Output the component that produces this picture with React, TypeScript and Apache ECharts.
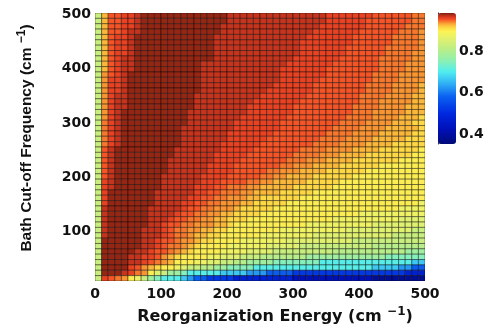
import React, { useEffect, useRef } from "react";
import * as echarts from "echarts";

const xTicks = [0, 100, 200, 300, 400, 500];
const yTicks = [100, 200, 300, 400, 500];
const barTicks = [0.4, 0.6, 0.8];
const colWidth = 10;
const rowCount = 50;
const yMin = 6;
const yMax = 500;

const levels: Record<string, number> = {
  a: 0.97, b: 0.96, c: 0.95, d: 0.943, e: 0.935, f: 0.928, g: 0.918, h: 0.905,
  i: 0.89, j: 0.87, k: 0.85, l: 0.82, m: 0.8, n: 0.77, o: 0.74, p: 0.7,
  q: 0.66, r: 0.62, s: 0.57, t: 0.52, u: 0.47, v: 0.42, w: 0.38,
};

// top row (500) first, ten groups of five cells each
const rows = [
  "lgddc cbaaa aaaaa aaaaa bbbbb bbbbb bbbbb ccccc ccddd dddee",
  "lgddc cbaaa aaaaa aaaaa bbbbb bbbbb bbbbb ccccc cdddd dddee",
  "lgddc cbaaa aaaaa aaaab bbbbb bbbbb bbbbc ccccc cdddd ddeee",
  "lgddc bbaaa aaaaa aaaab bbbbb bbbbb bbbcc ccccc ddddd deeef",
  "lgdcc baaaa aaaaa aaabb bbbbb bbbbb bbccc ccccd ddddd eeeef",
  "lgdcc baaaa aaaaa aaabb bbbbb bbbbb bcccc ccccd ddddd eeeef",
  "lgdcc baaaa aaaaa aaabb bbbbb bbbbb bcccc cccdd dddde eeeef",
  "lgdcc baaaa aaaaa aaabb bbbbb bbbbb bcccc cccdd dddde eeeff",
  "lgdcb baaaa aaaaa aaabb bbbbb bbbbb ccccc ccddd dddee eeeff",
  "lgdcb baaaa aaaaa abbbb bbbbb bbbbc ccccc cdddd dddee eefff",
  "lgdcb baaaa aaaaa abbbb bbbbb bbbcc ccccc ddddd dddee eefff",
  "lfdcb aaaaa aaaaa abbbb bbbbb bbbcc ccccc ddddd ddeee effff",
  "lfccb aaaaa aaaaa abbbb bbbbb bbbcc ccccd ddddd ddeee effff",
  "lfccb aaaaa aaaaa abbbb bbbbb bbccc cccdd ddddd deeee ffffg",
  "lfccb aaaaa aaaaa abbbb bbbbb bcccc cccdd ddddd deeee ffffg",
  "lfcbb aaaaa aaaaa bbbbb bbbbb ccccc ccddd ddddd eeeef fffgg",
  "lfcbb aaaaa aaaaa bbbbb bbbbc ccccc cdddd ddddd eeeff fffgg",
  "lfcbb aaaaa aaaaa bbbbb bbbcc ccccc ddddd dddde eeeff ffggg",
  "lfcba aaaaa aaaab bbbbb bbbcc ccccc ddddd dddde eefff ffggg",
  "lfcba aaaaa aaaab bbbbb bbccc ccccd ddddd dddee eefff fgggh",
  "lecba aaaaa aaaab bbbbb bcccc cccdd ddddd ddeee effff ggghh",
  "lecba aaaaa aaabb bbbbb bcccc cccdd ddddd deeee ffffg ggggh",
  "lecba aaaaa aaabb bbbbb ccccc ccddd ddddd eeeef fffgg ggghh",
  "lecba aaaaa aaabb bbbbb ccccc cdddd dddde eeeff ffggg gghhh",
  "lecba aaaaa aaabb bbbbc ccccc ddddd dddee eefff fgggg hhhhh",
  "ldbaa aaaaa aabbb bbbbc ccccd ddddd deeee ffffg ggghh hhhhi",
  "ldbaa aaaaa aabbb bbbcc cccdd ddddd eeeef ffggg ghhhh hhhii",
  "ldbaa aaaaa abbbb bbbcc ccddd dddde eefff ggggh hhhhh hiiii",
  "ldbaa aaaaa abbbb bbccc cdddd dddee fffgg gghhh hhhii iiiii",
  "ldbaa aaaaa abbbb bbccc cdddd deeff fgggg hhhhh hiiii iiiii",
  "ldbaa aaaaa bbbbb bcccc ddddd eeffg ggghh hhhhi iiiii iiiii",
  "lcbaa aaaaa bbbbb bcccd dddee ffggg gghhh hhiii iiiii iiiii",
  "lcbaa aaaaa bbbbb cccdd eeeff ggggg hhhhh hiiii iiiii iiiii",
  "lcaaa aaaab bbbbb ccdde eeffg ggghh hhhii iiiii iiiii iiiii",
  "lcaaa aaaab bbbbc cddee fffgg hhhhh hiiii iiiii iiiii iiiii",
  "lcaaa aaaab bbbcc ddeef ffggh hhhhi iiiii iiiii iiiii iiiij",
  "lbaaa aaabb bbbcd deeff fghhh hhiii iiiii iiiii iiiii ijjjj",
  "lbaaa aaabb bbcdd eeffg ghhhh iiiii iiiii iiiii jjjjj jjjjj",
  "lbaaa aaabb bcdde effgg hhhii iiiii iiiii ijjjj jjjjj jkkkk",
  "lbaaa aaabb cddee fffgg hiiii iiiii iijjj jjjjj jjkkk kkkkk",
  "lbaaa aabbb cdeef fgghh iiiii iiijj jjjjj jjjkk kkkkk kkkll",
  "lbaaa aabbb cdeef gghhi iiiii jjjjj jjjkk kkkkk kkkkk lllll",
  "laaaa aabbc ddeff ghhii iijjj jjjjk kkkkk kkkkl lllll lllll",
  "laaaa aabbc deefg hiiii jjjjj jkkkk kllll lllll llmmm mmmmm",
  "laaaa abbcd defgh iiiij jjjkk kklll lllll lmmmm mmmmm mmnnn",
  "laaaa bbccd fghii iijjk kklll mmmmm mmnnn nnnnn nnnno ooooo",
  "laaaa bbcde fgiii jjkkl lmmnn nnooo oooop ppppp ppppp pppqq",
  "laaaa cdfgh iijkl lmmnn oooop ppppp ppppp ppppp ppqqq qrrss",
  "laaab cefik lnnop ppppq qqqrr rssss ttttt ttttt ttttt ttuuu",
  "lcdef ijlno pppqr ssttt tuuuu uuuuu vvvvv vvvvv vvwww wwwww",
];

const colorStops: [number, string][] = [
  [0.349, "#000a78"], [0.42, "#0010b8"], [0.495, "#0028e0"], [0.575, "#0a60f0"],
  [0.638, "#30b0f5"], [0.694, "#50eef0"], [0.75, "#90f0b0"], [0.8, "#b8ee88"],
  [0.85, "#e0f070"], [0.887, "#fdf455"], [0.91, "#fdd040"], [0.93, "#f89030"],
  [0.945, "#f54a25"], [0.955, "#dc3a1f"], [0.965, "#b02e1a"], [0.975, "#7c1e0e"],
];

const barMin = colorStops[0][0];
const barMax = colorStops[colorStops.length - 1][0];

function sampleColor(v: number): string {
  for (let i = 1; i < colorStops.length; i++) {
    const [v0, c0] = colorStops[i - 1];
    const [v1, c1] = colorStops[i];
    if (v <= v1) {
      const t = (v - v0) / (v1 - v0);
      const ch = (s: string, k: number) => parseInt(s.slice(1 + k * 2, 3 + k * 2), 16);
      const mix = [0, 1, 2].map((k) => Math.round(ch(c0, k) + (ch(c1, k) - ch(c0, k)) * t));
      return `rgb(${mix.join(",")})`;
    }
  }
  return colorStops[colorStops.length - 1][1];
}

const ramp = Array.from({ length: 64 }, (_, i) => sampleColor(barMin + ((barMax - barMin) * i) / 63));
const rowStep = (yMax - yMin) / rowCount;

const cells: number[][] = [];
rows.forEach((row, r) => {
  row.replace(/ /g, "").split("").forEach((ch, c) => {
    cells.push([c * colWidth, yMax - (r + 1) * rowStep, levels[ch]]);
  });
});

const FONT = "'Liberation Sans', Arial, sans-serif";
const WIDE = "'DejaVu Sans', sans-serif";
const xTitleRich = {
  s: { fontFamily: WIDE, fontWeight: "bold" as const, fontSize: 12, color: "#111", verticalAlign: "top" as const, padding: [0, 0, 8, 0] },
  n: { fontFamily: WIDE, fontWeight: "bold" as const, fontSize: 16, color: "#111" },
};
const yTitleRich = {
  s: { fontFamily: FONT, fontWeight: "bold" as const, fontSize: 12, color: "#111", verticalAlign: "top" as const, padding: [0, 0, 8, 0] },
  n: { fontFamily: FONT, fontWeight: "bold" as const, fontSize: 15.5, color: "#111" },
};
const tickLabel = { fontFamily: WIDE, fontWeight: "bold", fontSize: 14, color: "#111" };

export default function App() {
  const ref = useRef<HTMLDivElement>(null);
  useEffect(() => {
    document.body.style.margin = "0";
    const chart = echarts.init(ref.current!, undefined, { renderer: "svg" });
    chart.setOption({
      animation: false,
      backgroundColor: "#fff",
      grid: [
        { left: 95, top: 13, width: 330, height: 268, outerBoundsMode: "none" },
        { left: 438, top: 13, width: 18, height: 131, outerBoundsMode: "none" },
      ],
      xAxis: [
        {
          type: "value", gridIndex: 0, min: 0, max: 500, interval: 100,
          axisLine: { show: false }, axisTick: { show: false }, splitLine: { show: false },
          axisLabel: { ...tickLabel, customValues: xTicks, margin: 5 },
          name: "{n|Reorganization Energy (cm }{s|−1}{n|)}",
          nameLocation: "middle", nameGap: 24,
          nameTextStyle: { padding: [0, 0, 0, 30], rich: xTitleRich },
        },
        { type: "value", gridIndex: 1, min: 0, max: 1, show: false },
      ],
      yAxis: [
        {
          type: "value", gridIndex: 0, min: yMin, max: yMax,
          axisLine: { show: false }, axisTick: { show: false }, splitLine: { show: false },
          axisLabel: { ...tickLabel, customValues: yTicks, margin: 4 },
          name: "{n|Bath Cut-off Frequency (cm }{s|−1}{n|)}",
          nameLocation: "middle", nameGap: 60, nameRotate: 90,
          nameTextStyle: { padding: [0, 0, 0, 18], rich: yTitleRich },
        },
        {
          type: "value", gridIndex: 1, position: "right", min: barMin, max: barMax,
          axisLine: { show: true, lineStyle: { color: "#223", width: 1 } },
          axisTick: { show: false }, splitLine: { show: false },
          axisLabel: {
            ...tickLabel, customValues: barTicks, margin: 3,
            formatter: (v: number) => v.toFixed(1),
          },
        },
      ],
      visualMap: {
        type: "continuous", seriesIndex: 0, dimension: 2, min: barMin, max: barMax,
        left: 438, top: 13, itemWidth: 18, itemHeight: 131, padding: 0,
        calculable: false, realtime: false, text: null, showLabel: false,
        inRange: { color: ramp }, borderColor: "#223", borderWidth: 0,
      },
      series: [
        {
          type: "custom", coordinateSystem: "cartesian2d", xAxisIndex: 0, yAxisIndex: 0,
          data: cells, encode: { x: 0, y: 1 }, clip: true,
          renderItem: (_: unknown, api: any) => {
            const p0 = api.coord([api.value(0), api.value(1)]);
            const p1 = api.coord([api.value(0) + colWidth, api.value(1) + rowStep]);
            return {
              type: "rect",
              shape: { x: p0[0], y: p1[1], width: p1[0] - p0[0], height: p0[1] - p1[1] },
              style: { fill: api.visual("color"), stroke: "rgba(0,0,0,0.42)", lineWidth: 1 },
            };
          },
        },
      ],
    });
    return () => chart.dispose();
  }, []);
  return <div ref={ref} style={{ position: "absolute", left: 0, top: 0, width: 491, height: 327, filter: "blur(0.4px)" }} />;
}
